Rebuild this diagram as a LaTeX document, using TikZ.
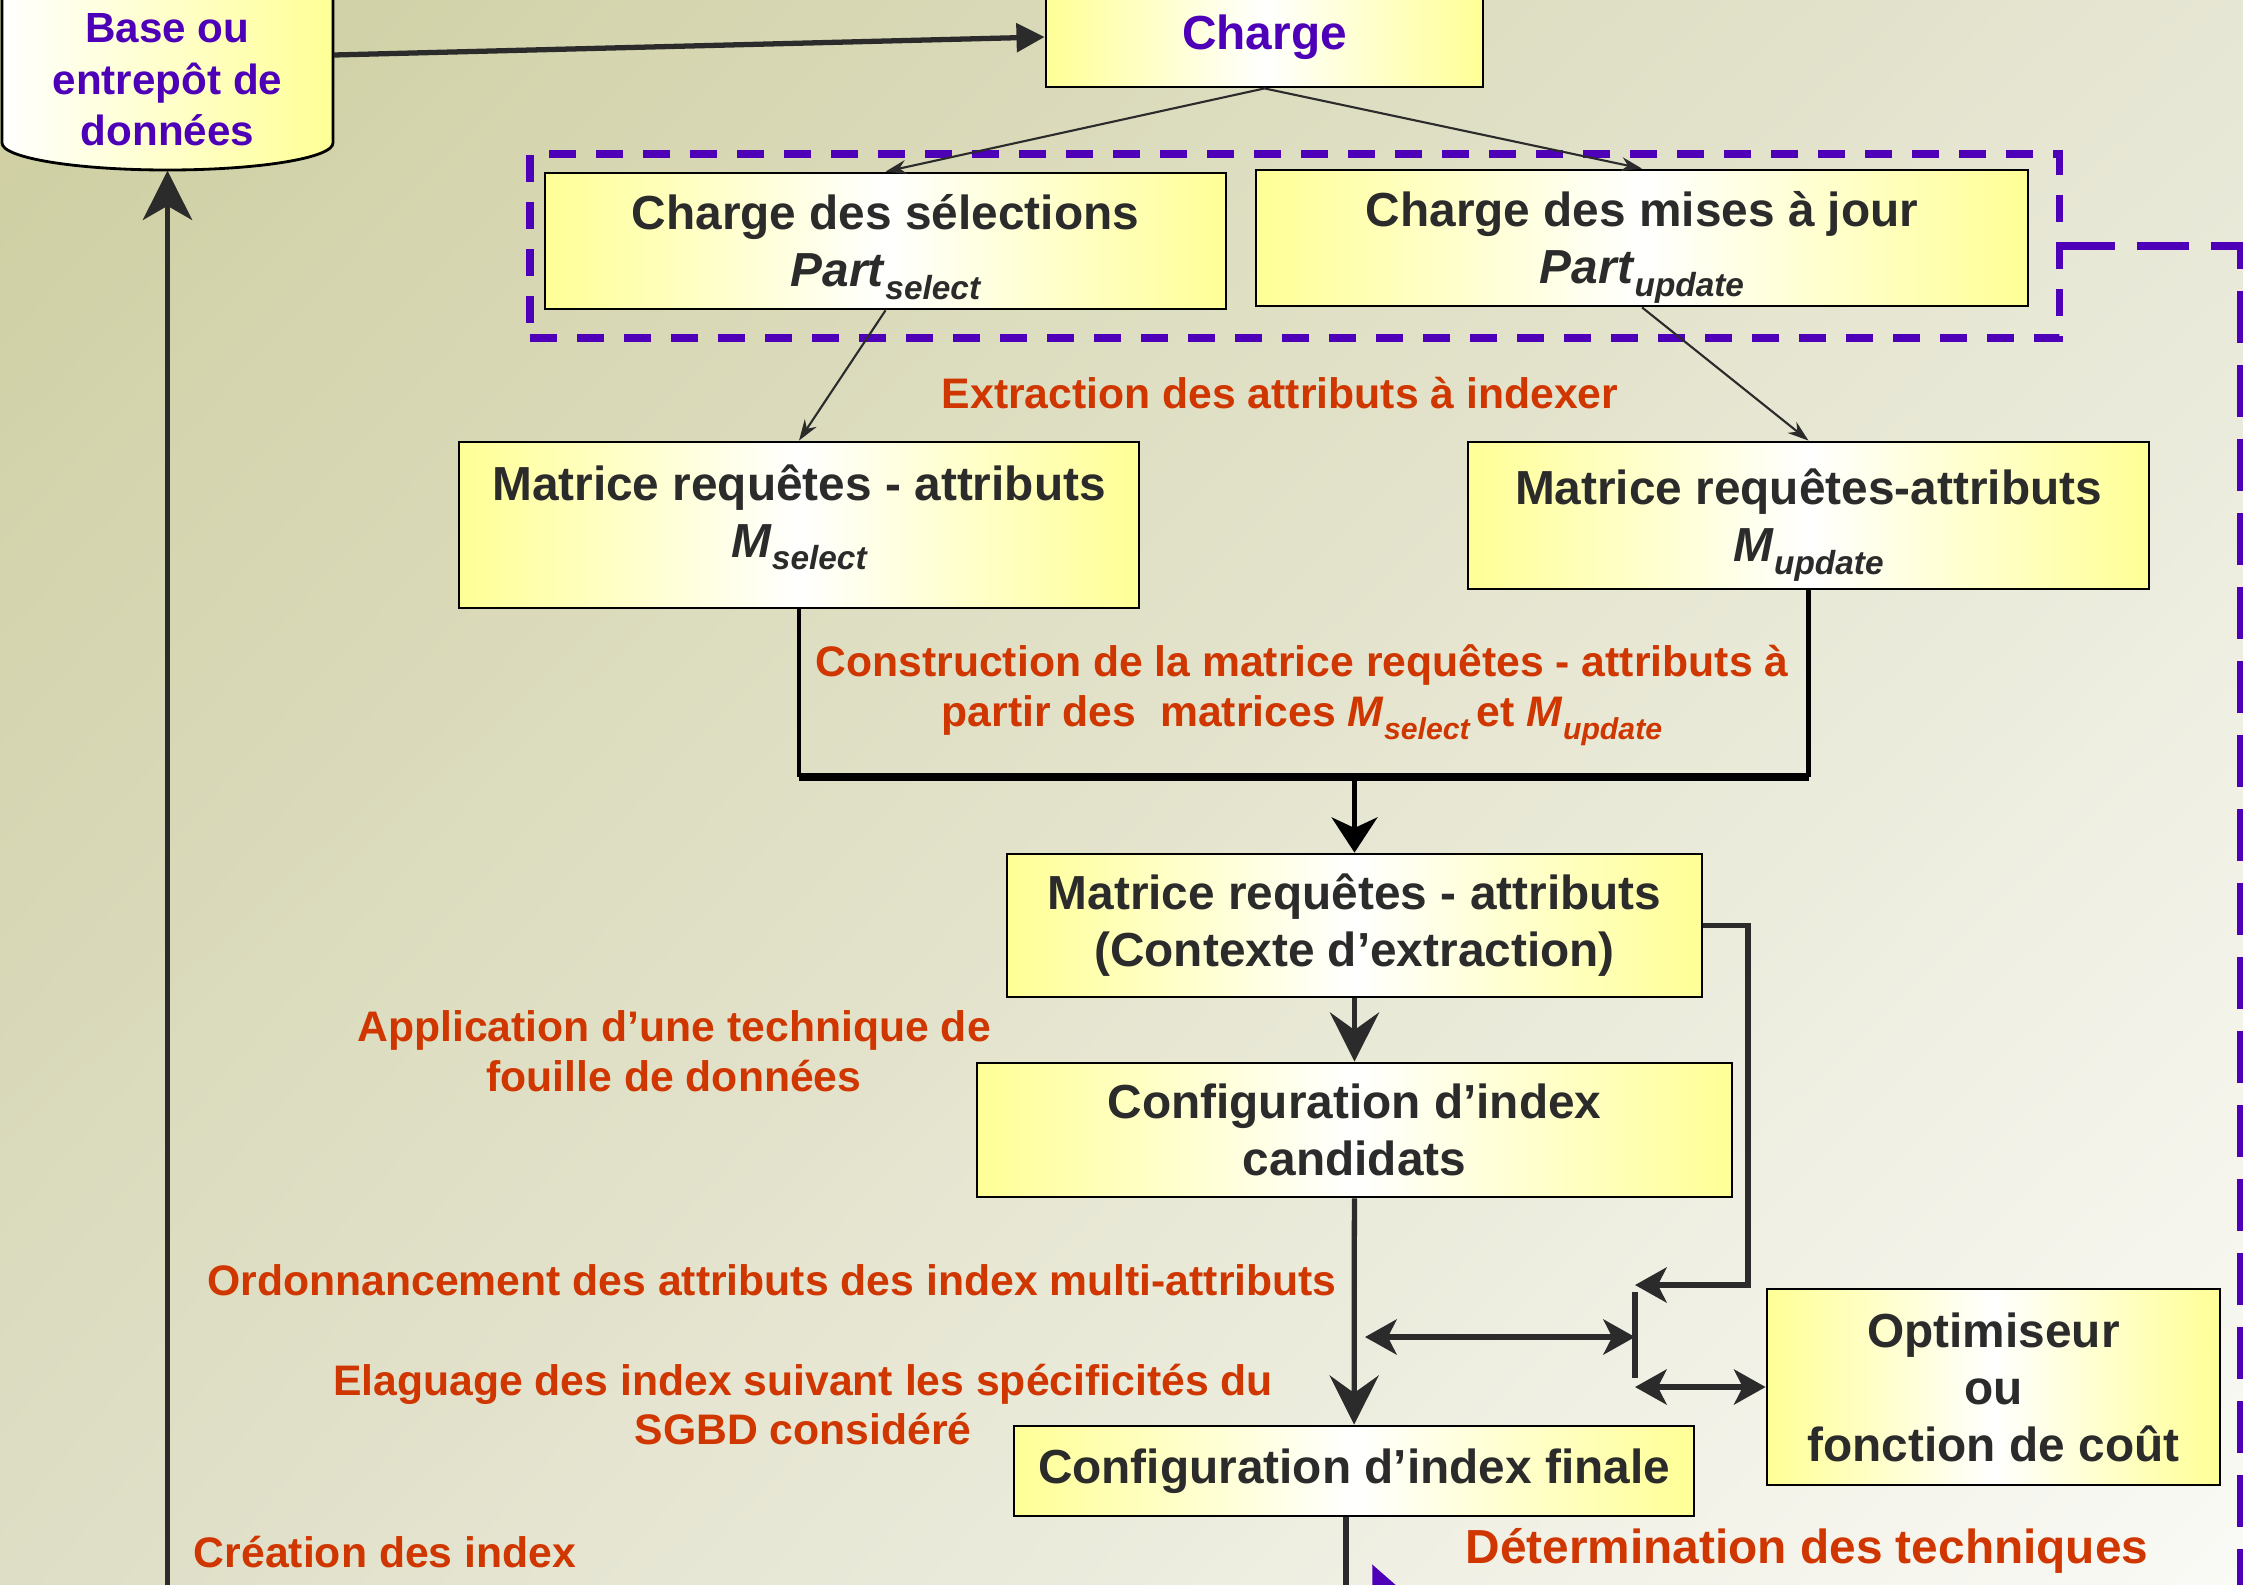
\documentclass[tikz,border=0pt]{standalone}
\usepackage{fontspec}
\setmainfont{Liberation Sans}
\usetikzlibrary{arrows.meta,shadings}

\definecolor{boxyellow}{RGB}{255,255,150}
\definecolor{inkgray}{RGB}{43,43,43}
\definecolor{titlepurple}{RGB}{78,0,184}
\definecolor{labelorange}{RGB}{207,54,0}
\definecolor{bgtl}{RGB}{206,206,160}
\definecolor{bgtr}{RGB}{230,230,212}
\definecolor{bgbl}{RGB}{222,222,198}
\definecolor{bgbr}{RGB}{250,250,246}

\newcommand{\lowsub}[2][9.5]{\raisebox{-3.6pt}[0pt][0pt]{\fontsize{#1}{#1}\selectfont\itshape #2}}

\begin{document}
\begin{tikzpicture}[
  box/.style={draw=black, line width=0.8pt, left color=boxyellow, right color=boxyellow, middle color=white, align=center, inner sep=0pt, text=inkgray, font=\fontsize{13.6}{16.2}\selectfont\bfseries},
  dbtext/.style={align=center, text=titlepurple, minimum width=3.31cm, minimum height=1.8cm, inner sep=0pt, font=\fontsize{12}{14.6}\selectfont\bfseries},
  lbl/.style={align=center, text=labelorange, font=\fontsize{12.15}{14.2}\selectfont\bfseries},
  purpledash/.style={draw=titlepurple, line width=2pt, dash pattern=on 0.52cm off 0.22cm},
  bigarrow/.style={-{Stealth[length=14pt,width=14pt,inset=4pt]}, line width=1.6pt, draw=inkgray},
  headarrow/.style={-{Triangle[length=8pt,width=8pt]}, line width=1.5pt, draw=inkgray},
  thinarrow/.style={-{Stealth[length=6pt,width=4pt]}, line width=0.6pt, draw=inkgray},
  downarrow/.style={-{Stealth[length=10pt,width=13pt,inset=3pt]}, line width=1.5pt, draw=black},
  flowarrow/.style={-{Stealth[length=14pt,width=14pt,inset=5pt]}, line width=1.5pt, draw=inkgray},
  sidearrow/.style={-{Stealth[length=9pt,width=10pt,inset=2.5pt]}, line width=1.5pt, draw=inkgray},
  dblarrow/.style={{Stealth[length=9pt,width=10pt,inset=2.5pt]}-{Stealth[length=9pt,width=10pt,inset=2.5pt]}, line width=1.5pt, draw=inkgray},
  purplearrow/.style={-{Triangle[length=12pt,width=10pt]}, line width=2pt, draw=titlepurple}
]
\useasboundingbox (0,0) rectangle (22.43,-15.84);
\shade[upper left=bgtl, upper right=bgtr, lower left=bgbl, lower right=bgbr] (0,0) rectangle (22.43,-15.84);

\path[draw=black, line width=0.8pt, left color=white, right color=boxyellow] (0.02,0.6) -- (0.02,-1.43) arc[start angle=180, end angle=360, x radius=1.655, y radius=0.27] -- (3.33,0.6);
\node[dbtext] (db) at (1.675,-0.80) {Base ou\\entrepôt de\\données};

\node[box, minimum width=4.37cm, minimum height=1.0cm, text=titlepurple] (charge) at (12.645,-0.37) {Charge};
\node[box, minimum width=6.81cm, minimum height=1.36cm] (partsel) at (8.855,-2.41) {Charge des sélections\\\textit{Part}\lowsub{select}};
\node[box, minimum width=7.72cm, minimum height=1.36cm] (partupd) at (16.42,-2.38) {Charge des mises à jour\\\textit{Part}\lowsub{update}};
\node[draw=titlepurple, line width=2pt, dash pattern=on 0.27cm off 0.2cm, minimum width=15.29cm, minimum height=1.84cm] (charges) at (12.945,-2.46) {};
\node[lbl] (lblextract) at (12.80,-3.93) {Extraction des attributs à indexer};
\node[box, minimum width=6.80cm, minimum height=1.66cm] (msel) at (7.99,-5.25) {Matrice requêtes - attributs\\\textit{M}\lowsub{select}\rule[-8pt]{0pt}{8pt}};
\node[box, minimum width=6.81cm, minimum height=1.47cm] (mupd) at (18.085,-5.155) {Matrice requêtes-attributs\\\textit{M}\lowsub{update}};
\node[lbl] (lblconstr) at (13.02,-6.90) {Construction de la matrice requêtes - attributs à\\partir des~ matrices \textit{M}\lowsub[8.6]{select}\,et \textit{M}\lowsub[8.6]{update}};
\coordinate (merge) at (13.545,-7.77);
\node[box, minimum width=6.95cm, minimum height=1.43cm] (mctx) at (13.545,-9.255) {Matrice requêtes - attributs\\(Contexte d’extraction)};
\node[lbl] (lblfouille) at (6.74,-10.515) {Application d’une technique de\\fouille de données};
\node[box, minimum width=7.55cm, minimum height=1.34cm] (candidats) at (13.545,-11.30) {Configuration d’index\\candidats};
\node[lbl] (lblordo) at (7.72,-12.80) {Ordonnancement des attributs des index multi-attributs};
\node[lbl] (lblelag) at (8.03,-14.045) {Elaguage des index suivant les spécificités du\\SGBD considéré};
\node[box, minimum width=6.80cm, minimum height=0.90cm] (finale) at (13.54,-14.71) {Configuration d’index finale};
\node[box, minimum width=4.53cm, minimum height=1.96cm] (optim) at (19.935,-13.87) {Optimiseur\\ou\\fonction de coût};
\node[lbl] (lblcreation) at (3.85,-15.52) {Création des index};
\node[lbl, font=\fontsize{13.6}{16.2}\selectfont\bfseries] (lbldeterm) at (18.07,-15.51) {Détermination des techniques};

\coordinate (dbin) at (1.675,-16.5);
\coordinate (fbk) at (17.48,-12.85);
\coordinate (bartop) at (16.35,-12.92);
\coordinate (barbot) at (16.35,-13.78);
\coordinate (dblleft) at (13.65,-13.37);
\coordinate (finout) at (13.46,-16.5);
\coordinate (rightdown) at (22.40,-16.5);
\coordinate (purpin) at (14.3,-16.9);
\coordinate (purptip) at (13.72,-15.64);

\draw[bigarrow] (dbin) -- (db.south);
\draw[headarrow] ([yshift=2.5mm]db.east) -- (charge.west);
\draw[thinarrow] (charge.south) -- (partsel.north);
\draw[thinarrow] (charge.south) -- (partupd.north);
\draw[thinarrow] (partsel.south) -- (msel.north);
\draw[thinarrow] (partupd.south) -- (mupd.north);
\draw[line width=1.2pt] (msel.south) -- (msel.south |- merge);
\draw[line width=1.2pt] (mupd.south) -- (mupd.south |- merge);
\draw[line width=2.2pt] (msel.south |- merge) -- (mupd.south |- merge);
\draw[downarrow] (merge) -- (mctx.north);
\draw[flowarrow] (mctx) -- (candidats);
\draw[flowarrow] (candidats) -- (finale);
\draw[sidearrow] (mctx.east) -| (fbk) -- (fbk -| bartop);
\draw[line width=1.5pt, draw=inkgray] (bartop) -- (barbot);
\draw[dblarrow] (dblleft) -- (dblleft -| bartop);
\draw[dblarrow] (barbot |- optim.west) -- (optim.west);
\draw[line width=1.5pt, draw=inkgray] (finale.south -| finout) -- (finout);
\draw[purpledash] (charges.east) -| (rightdown);
\draw[purplearrow] (purpin) -- (purptip);
\end{tikzpicture}
\end{document}
